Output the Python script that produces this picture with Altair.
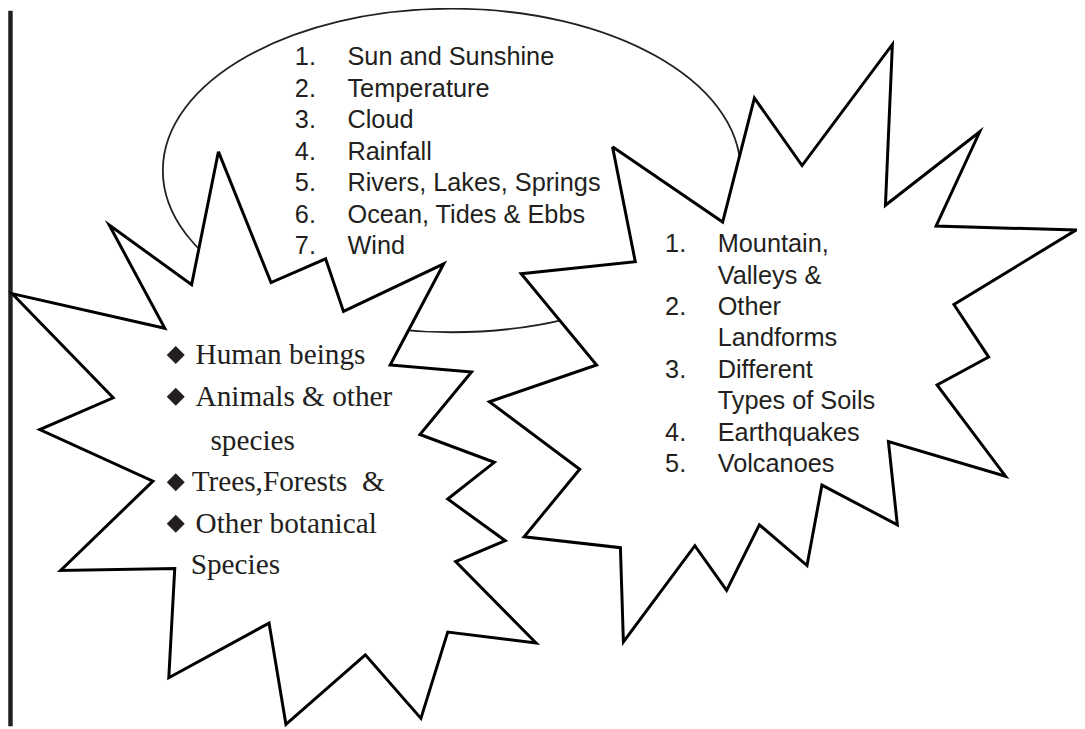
import altair as alt
import pandas as pd

# ---- geometry (page pixel coordinates) ----
left_star_x = [220, 273, 328, 346, 447, 393, 475, 423, 498, 451, 509, 459, 540, 451,
               424, 368, 288, 271, 170, 176, 61, 154, 40, 114, 12, 166, 110, 193]
left_star_y = [150, 282, 258, 311, 263, 365, 372, 435, 463, 500, 542, 563, 645, 634,
               721, 657, 727, 625, 680, 570, 572, 482, 430, 398, 293, 328, 224, 284]
right_star_x = [617, 728, 760, 808, 899, 892, 987, 943, 1084, 961, 996, 944, 1013, 895,
                904, 828, 813, 765, 732, 700, 628, 625, 528, 584, 493, 601, 525, 640]
right_star_y = [145, 221, 96, 164, 42, 204, 130, 225, 229, 304, 357, 385, 477, 442,
                526, 486, 567, 526, 592, 547, 644, 549, 538, 470, 402, 365, 273, 261]

ellipse_center = [455, 169]

# ---- texts ----
climate_items = ["Sun and Sunshine", "Temperature", "Cloud", "Rainfall",
                 "Rivers, Lakes, Springs", "Ocean, Tides & Ebbs", "Wind"]
climate_numbers = ["1.", "2.", "3.", "4.", "5.", "6.", "7."]

land_lines = ["Mountain,", "Valleys &", "Other", "Landforms", "Different",
              "Types of Soils", "Earthquakes", "Volcanoes"]
land_numbers = ["1.", "", "2.", "", "3.", "", "4.", "5."]

life_lines = ["Human beings", "Animals & other", "species", "Trees,Forests \u00a0&",
              "Other botanical", "Species"]
life_bullets = [True, True, False, True, True, False]
life_indent = [197, 197, 212, 193, 197, 192]
life_rows = [355, 397, 442, 483, 525, 567]

INK = "#231f20"
W, H = 1077, 721
XS = alt.Scale(domain=[8, 1085], nice=False, zero=False)
YS = alt.Scale(domain=[8, 729], nice=False, zero=False, reverse=True)


def X(f="x"):
    return alt.X(f"{f}:Q", scale=XS, axis=None)


def Y(f="y"):
    return alt.Y(f"{f}:Q", scale=YS, axis=None)


def star_df(xs, ys):
    xs = list(xs) + [xs[0]]
    ys = list(ys) + [ys[0]]
    return pd.DataFrame({"x": xs, "y": ys, "o": list(range(len(xs)))})


# ellipse outline as a custom symbol (unit ellipse, aspect 163/291)
E = 0.5601
K = 0.5523
KE = round(K * E, 4)
ELLIPSE_PATH = (
    f"M1,0C1,{KE} {K},{E} 0,{E}"
    f"C-{K},{E} -1,{KE} -1,0"
    f"C-1,-{KE} -{K},-{E} 0,-{E}"
    f"C{K},-{E} 1,-{KE} 1,0Z"
)

ellipse = alt.Chart(pd.DataFrame({"x": [ellipse_center[0]], "y": [ellipse_center[1]]})).mark_point(
    shape=ELLIPSE_PATH, size=582 ** 2, filled=False, stroke=INK, strokeWidth=1.8, opacity=1
).encode(x=X(), y=Y())

left_star = alt.Chart(star_df(left_star_x, left_star_y)).mark_line(
    stroke="black", strokeWidth=3, fill="white", strokeJoin="miter", strokeMiterLimit=20
).encode(x=X(), y=Y(), order="o:Q")

right_star = alt.Chart(star_df(right_star_x, right_star_y)).mark_line(
    stroke="black", strokeWidth=3, fill="white", strokeJoin="miter", strokeMiterLimit=20
).encode(x=X(), y=Y(), order="o:Q")

# climate list inside the ellipse
n = len(climate_items)
clim_df = pd.DataFrame({
    "num": climate_numbers,
    "txt": climate_items,
    "xn": [297] * n,
    "xt": [350] * n,
    "y": [55 + 31.7 * i for i in range(n)],
})
clim_num = alt.Chart(clim_df).mark_text(
    align="left", baseline="middle", font="Liberation Sans", fontSize=25.5, color=INK
).encode(x=X("xn"), y=Y(), text="num:N")
clim_txt = alt.Chart(clim_df).mark_text(
    align="left", baseline="middle", font="Liberation Sans", fontSize=25.5, color=INK
).encode(x=X("xt"), y=Y(), text="txt:N")

# landforms list in right star
m = len(land_lines)
land_df = pd.DataFrame({
    "num": land_numbers,
    "txt": land_lines,
    "xn": [670] * m,
    "xt": [723] * m,
    "y": [243.5 + 31.6 * i for i in range(m)],
})
land_num = alt.Chart(land_df).mark_text(
    align="left", baseline="middle", font="Liberation Sans", fontSize=25.5, color=INK
).encode(x=X("xn"), y=Y(), text="num:N")
land_txt = alt.Chart(land_df).mark_text(
    align="left", baseline="middle", font="Liberation Sans", fontSize=25.5, color=INK
).encode(x=X("xt"), y=Y(), text="txt:N")

# living beings list in left star
life_df = pd.DataFrame({
    "txt": life_lines,
    "x": life_indent,
    "xd": [177] * len(life_lines),
    "y": life_rows,
    "bullet": life_bullets,
})
life_txt = alt.Chart(life_df).mark_text(
    align="left", baseline="middle", font="Liberation Serif", fontSize=29.5, color=INK
).encode(x=X(), y=Y(), text="txt:N")
life_dia = alt.Chart(life_df[life_df["bullet"]]).mark_point(
    shape="diamond", filled=True, size=330, color=INK, opacity=1
).encode(x=X("xd"), y=Y())

border = alt.Chart(pd.DataFrame({"x": [10.5], "y": [8], "y2": [729]})).mark_rule(
    color=INK, strokeWidth=4.5
).encode(x=X(), y=Y(), y2="y2:Q")

chart = alt.layer(
    border, ellipse, left_star, right_star,
    clim_num, clim_txt, land_num, land_txt, life_txt, life_dia
).properties(
    width=W, height=H, padding=0, autosize="none", background="white"
).configure_view(stroke=None)

chart.save("out.html", embed_options={"renderer": "svg", "actions": False})
